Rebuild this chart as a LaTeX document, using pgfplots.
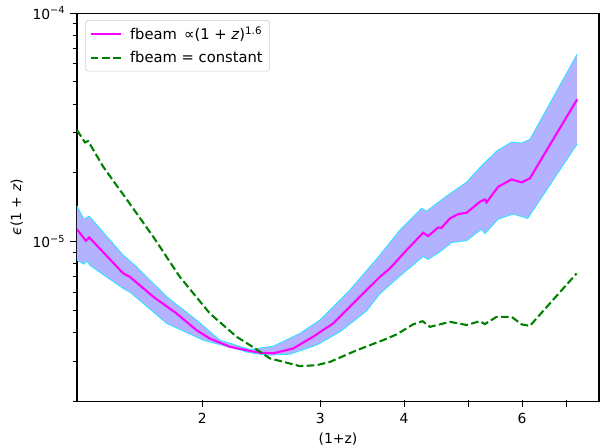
\documentclass[border=0pt]{standalone}
\usepackage{fontspec}
\setmainfont{DejaVu Sans}
\usepackage{pgfplots}
\pgfplotsset{compat=1.18}
\usepgfplotslibrary{fillbetween}
\definecolor{bandfill}{RGB}{178,178,255}
\definecolor{bandedge}{RGB}{40,230,255}
\definecolor{mplmag}{RGB}{255,0,255}
\definecolor{mplgreen}{RGB}{0,128,0}
\begin{document}
\begin{tikzpicture}
\begin{axis}[
  name=ax,
  scale only axis,
  width=375.8pt, height=279.4pt,
  xmode=log, ymode=log,
  xmin=1.3, xmax=7.82,
  ymin=2e-6, ymax=1e-4,
  xtick={2,3,4,5,6,7},
  xticklabels={2,3,4,,6,},
  minor xtick={},
  ytick={1e-5,1e-4},
  yticklabels={10\textsuperscript{−5},10\textsuperscript{−4}},
  minor ytick={2e-6,3e-6,4e-6,5e-6,6e-6,7e-6,8e-6,9e-6,2e-5,3e-5,4e-5,5e-5,6e-5,7e-5,8e-5,9e-5},
  tick align=outside,
  xtick pos=bottom, ytick pos=left,
  tick style={black, line width=0.6pt},
  major tick length=4.9pt, minor tick length=2.8pt,
  x tick style={yshift=1.05pt, line width=0.6pt},
  tick label style={font=\fontsize{10}{12}\selectfont},
  xlabel={(1+z)}, ylabel={\textit{ϵ}(1 + \textit{z})},
  label style={font=\fontsize{10}{12}\selectfont},
  axis line style={line width=0.8pt},
  legend cell align=left,
  legend style={at={(axis description cs:0,1)}, anchor=north west, xshift=6pt, yshift=-5pt,
    draw=black!20, rounded corners=2pt, font=\fontsize{10.6}{12.7}\selectfont, row sep=3pt,
    inner xsep=3pt, inner ysep=2.5pt,
    /tikz/every odd column/.append style={column sep=3.5pt}},
  legend image code/.code={\draw[#1] (0cm,0cm) -- (22pt,0cm);},
]
\addplot[bandedge, line width=0.6pt, name path=up, forget plot] coordinates {
(1.300,1.433e-5) (1.331,1.253e-5) (1.356,1.292e-5) (1.524,0.872e-5) (1.596,0.775e-5)
(1.770,0.573e-5) (1.961,0.453e-5) (2.125,0.370e-5) (2.355,0.337e-5) (2.551,0.348e-5)
(2.797,0.396e-5) (2.996,0.453e-5) (3.209,0.554e-5) (3.321,0.613e-5) (3.682,0.872e-5)
(3.944,1.122e-5) (4.250,1.396e-5) (4.324,1.359e-5) (4.631,1.581e-5) (4.961,1.820e-5)
(5.192,2.107e-5) (5.500,2.488e-5) (5.790,2.724e-5) (5.993,2.697e-5) (6.166,2.799e-5)
(7.254,6.614e-5)};
\addplot[bandedge, line width=0.6pt, name path=lo, forget plot] coordinates {
(1.300,0.829e-5) (1.331,0.796e-5) (1.346,0.823e-5) (1.358,0.788e-5) (1.524,0.623e-5)
(1.560,0.600e-5) (1.770,0.438e-5) (2.006,0.370e-5) (2.355,0.326e-5) (2.494,0.318e-5)
(2.702,0.321e-5) (2.962,0.352e-5) (3.209,0.402e-5) (3.517,0.496e-5) (3.682,0.590e-5)
(3.944,0.706e-5) (4.273,0.859e-5) (4.347,0.835e-5) (4.525,0.901e-5) (4.711,0.989e-5)
(4.961,1.009e-5) (5.223,1.133e-5) (5.282,1.083e-5) (5.529,1.253e-5) (5.822,1.318e-5)
(6.120,1.262e-5) (7.254,2.670e-5)};
\addplot[bandfill, forget plot] fill between[of=up and lo];
\addplot[mplmag, line width=1.5pt] coordinates {
(1.300,1.130e-5) (1.341,1.007e-5) (1.356,1.042e-5) (1.524,0.725e-5) (1.560,0.700e-5)
(1.690,0.573e-5) (1.831,0.484e-5) (1.961,0.409e-5) (2.053,0.376e-5) (2.199,0.346e-5)
(2.355,0.332e-5) (2.438,0.326e-5) (2.551,0.324e-5) (2.733,0.340e-5) (2.927,0.383e-5)
(3.136,0.438e-5) (3.321,0.518e-5) (3.497,0.602e-5) (3.682,0.700e-5) (3.811,0.762e-5)
(4.036,0.917e-5) (4.273,1.092e-5) (4.347,1.056e-5) (4.499,1.152e-5) (4.552,1.148e-5)
(4.684,1.262e-5) (4.819,1.318e-5) (4.961,1.336e-5) (5.192,1.492e-5) (5.282,1.529e-5)
(5.313,1.483e-5) (5.529,1.736e-5) (5.790,1.870e-5) (5.993,1.815e-5) (6.166,1.889e-5)
(7.254,4.191e-5)};
\addlegendentry{fbeam \,∝(1 + \textit{z})\textsuperscript{1.6}}
\addplot[mplgreen, line width=1.5pt, dash pattern=on 5.55pt off 2.4pt] coordinates {
(1.300,3.075e-5) (1.336,2.716e-5) (1.351,2.752e-5) (1.423,2.124e-5) (1.507,1.679e-5)
(1.533,1.569e-5) (1.690,1.048e-5) (1.852,0.700e-5) (2.053,0.484e-5) (2.250,0.383e-5)
(2.355,0.352e-5) (2.523,0.308e-5) (2.797,0.2848e-5) (2.962,0.2875e-5) (3.100,0.297e-5)
(3.399,0.334e-5) (3.724,0.370e-5) (3.900,0.392e-5) (4.129,0.434e-5) (4.264,0.448e-5)
(4.373,0.423e-5) (4.684,0.445e-5) (4.961,0.431e-5) (5.192,0.448e-5) (5.282,0.435e-5)
(5.500,0.468e-5) (5.790,0.468e-5) (5.993,0.434e-5) (6.166,0.427e-5) (7.241,0.725e-5)};
\addlegendentry{fbeam = constant}
\end{axis}
\pgfresetboundingbox
\path[use as bounding box] ([shift={(-55.4pt,-33.1pt)}]ax.south west) rectangle ([shift={(7.2pt,9.4pt)}]ax.north east);
\end{tikzpicture}
\end{document}
